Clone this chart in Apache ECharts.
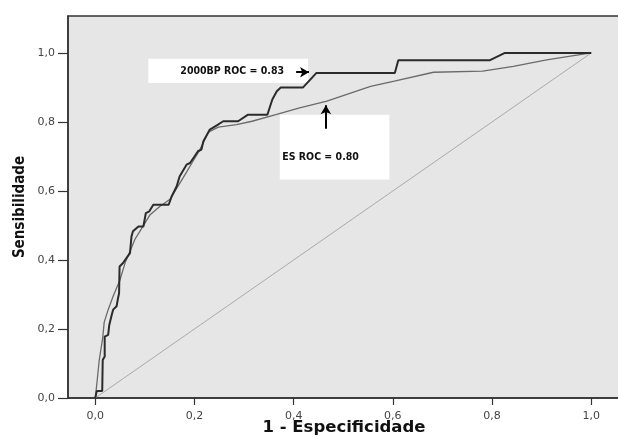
<!DOCTYPE html>
<html>
<head>
<meta charset="utf-8">
<script src="https://cdn.jsdelivr.net/npm/echarts@6/dist/echarts.min.js"></script>
<style>
html,body{margin:0;padding:0;background:#fff;}
#main{width:618px;height:437px;}
</style>
</head>
<body>
<div id="main"></div>
<script>
// Tick values
var xTicks = [0, 0.2, 0.4, 0.6, 0.8, 1.0];
var yTicks = [0, 0.2, 0.4, 0.6, 0.8, 1.0];

// 2000BP ROC curve [1-specificity, sensitivity]
var bp2000 = [
  [0,0],[0.003,0.02],[0.014,0.02],[0.015,0.11],[0.019,0.12],[0.019,0.178],[0.026,0.183],
  [0.028,0.21],[0.033,0.24],[0.036,0.256],[0.043,0.266],[0.046,0.29],[0.048,0.304],
  [0.049,0.381],[0.056,0.391],[0.06,0.40],[0.07,0.42],[0.073,0.468],[0.076,0.483],
  [0.087,0.497],[0.097,0.497],[0.102,0.536],[0.109,0.541],[0.117,0.56],[0.148,0.56],
  [0.154,0.584],[0.164,0.613],[0.17,0.642],[0.184,0.676],[0.191,0.681],[0.2,0.70],
  [0.207,0.715],[0.214,0.72],[0.218,0.744],[0.231,0.778],[0.245,0.79],[0.258,0.802],
  [0.288,0.802],[0.308,0.821],[0.347,0.821],[0.357,0.865],[0.366,0.889],[0.374,0.9],
  [0.419,0.9],[0.446,0.942],[0.604,0.942],[0.611,0.979],[0.796,0.979],[0.826,1.0],[1,1]
];

// ES ROC curve
var esCurve = [
  [0,0],[0.004,0.053],[0.008,0.11],[0.015,0.174],[0.018,0.22],[0.026,0.256],[0.036,0.295],
  [0.05,0.343],[0.06,0.391],[0.07,0.425],[0.08,0.46],[0.093,0.49],[0.11,0.53],[0.13,0.555],
  [0.15,0.575],[0.177,0.638],[0.197,0.686],[0.211,0.72],[0.228,0.77],[0.248,0.785],
  [0.285,0.792],[0.316,0.802],[0.364,0.821],[0.412,0.841],[0.467,0.86],[0.555,0.903],
  [0.603,0.918],[0.682,0.944],[0.781,0.947],[0.843,0.961],[0.91,0.98],[1,1]
];

// Reference diagonal
var diagonal = [[0,0],[1,1]];

// Annotation texts
var label2000 = '2000BP ROC = 0.83';
var labelES = 'ES ROC = 0.80';

var chart = echarts.init(document.getElementById('main'), null, {renderer:'canvas'});

function fmt(v){ return v.toFixed(1).replace('.', ','); }

var narrow = 'DejaVu Sans Condensed, Liberation Sans Narrow, DejaVu Sans, sans-serif';

var option = {
  animation: false,
  backgroundColor: '#ffffff',
  grid: {
    left: 68, right: -2, top: 16, bottom: 39,
    outerBoundsMode: 'none', containLabel: false,
    show: true, backgroundColor: '#e6e6e6', borderColor: '#333', borderWidth: 1.5
  },
  xAxis: {
    type: 'value', min: -0.055, max: 1.058,
    name: '1 - Especificidade', nameLocation: 'middle', nameGap: 21, nameMoveOverlap: false,
    nameTextStyle: {fontFamily: 'DejaVu Sans', fontWeight: 'bold', fontSize: 16.5, color: '#111'},
    axisLine: {onZero: false, lineStyle: {color: '#333', width: 1.5}},
    axisTick: {show: true, length: 7, customValues: xTicks, lineStyle: {color: '#333', width: 1.2}},
    axisLabel: {customValues: xTicks, formatter: fmt, margin: 13,
      fontFamily: 'DejaVu Sans', fontSize: 11, color: '#444'},
    splitLine: {show: false}
  },
  yAxis: {
    type: 'value', min: 0, max: 1.107,
    name: 'Sensibilidade', nameLocation: 'middle', nameGap: 40, nameRotate: 90, nameMoveOverlap: false,
    nameTextStyle: {fontFamily: narrow, fontWeight: 'bold', fontSize: 15, color: '#111'},
    axisLine: {onZero: false, lineStyle: {color: '#333', width: 1.5}},
    axisTick: {show: true, length: 10, customValues: yTicks, lineStyle: {color: '#333', width: 1.2}},
    axisLabel: {customValues: yTicks, formatter: fmt, margin: 13,
      fontFamily: 'DejaVu Sans', fontSize: 11, color: '#444'},
    splitLine: {show: false}
  },
  series: [
    {
      type: 'line', data: diagonal, symbol: 'none', silent: true,
      lineStyle: {color: '#a9a9a9', width: 1}, z: 2
    },
    {
      type: 'line', data: esCurve, symbol: 'none', silent: true,
      lineStyle: {color: '#6a6a6a', width: 1.3}, z: 3
    },
    {
      type: 'line', data: bp2000, symbol: 'none', silent: true,
      lineStyle: {color: '#2b2b2b', width: 2}, z: 4
    },
    {
      type: 'line', data: [], symbol: 'none', silent: true, z: 5,
      markArea: {
        silent: true,
        itemStyle: {color: '#ffffff', borderWidth: 0},
        label: {
          position: 'inside', fontFamily: narrow,
          fontWeight: 'bold', fontSize: 10.5, color: '#111'
        },
        data: [
          [{coord: [0.107, 0.983], name: label2000, label: {offset: [4, 0]}}, {coord: [0.429, 0.913]}],
          [{coord: [0.372, 0.821], name: labelES, label: {offset: [-14, 10]}}, {coord: [0.593, 0.633]}]
        ]
      },
      markLine: {
        silent: true, symbol: ['none', 'arrow'], symbolSize: [8, 9],
        label: {show: false},
        lineStyle: {color: '#000', width: 2, type: 'solid'},
        data: [
          [{coord: [0.405, 0.944]}, {coord: [0.431, 0.944]}],
          [{coord: [0.465, 0.78]}, {coord: [0.465, 0.848]}]
        ]
      }
    }
  ]
};
chart.setOption(option);
</script>
</body>
</html>
